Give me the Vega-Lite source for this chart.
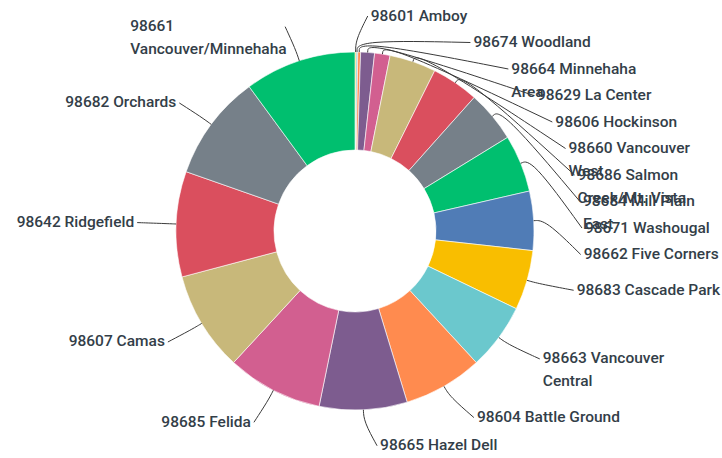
{
  "$schema": "https://vega.github.io/schema/vega-lite/v6.json",
  "width": 710,
  "height": 454,
  "autosize": {"type": "none"},
  "padding": {"left": 0, "top": 4, "right": 12, "bottom": 0},
  "background": "white",
  "config": {"view": {"stroke": null}},
  "data": {
    "values": [
      {"label": "98601 Amboy", "value": 0.11},
      {"label": "98674 Woodland", "value": 0.14},
      {"label": "98664 Minnehaha\nArea", "value": 0.25},
      {"label": "98629 La Center", "value": 1.25},
      {"label": "98606 Hockinson", "value": 1.39},
      {"label": "98660 Vancouver\nWest", "value": 4.2},
      {"label": "98686 Salmon\nCreek/Mt. Vista", "value": 4.25},
      {"label": "98684 Mill Plain\nEast", "value": 4.64},
      {"label": "98671 Washougal", "value": 5.17},
      {"label": "98662 Five Corners", "value": 5.33},
      {"label": "98683 Cascade Park", "value": 5.39},
      {"label": "98663 Vancouver\nCentral", "value": 6.0},
      {"label": "98604 Battle Ground", "value": 7.14},
      {"label": "98665 Hazel Dell", "value": 7.92},
      {"label": "98685 Felida", "value": 8.64},
      {"label": "98607 Camas", "value": 9.0},
      {"label": "98642 Ridgefield", "value": 9.5},
      {"label": "98682 Orchards", "value": 9.55},
      {"label": "98661\nVancouver/Minnehaha", "value": 10.06}
    ]
  },
  "transform": [
    {"joinaggregate": [{"op": "sum", "field": "value", "as": "total"}]},
    {"stack": "value", "groupby": [], "sort": [{"field": "value", "order": "ascending"}], "as": ["v0", "v1"]},
    {"calculate": "PI*(datum.v0+datum.v1)/datum.total", "as": "mid"},
    {"calculate": "datum.mid < PI ? 'R' : 'L'", "as": "side"},
    {"calculate": "-215*cos(datum.mid)", "as": "nat"},
    {"window": [{"op": "row_number", "as": "idx"}], "groupby": ["side"], "sort": [{"field": "value", "order": "ascending"}]},
    {"calculate": "datum.nat-(datum.idx-1)*26.5", "as": "a"},
    {"window": [{"op": "max", "field": "a", "as": "amax"}], "groupby": ["side"], "sort": [{"field": "value", "order": "ascending"}], "frame": [null, 0]},
    {"calculate": "datum.side=='R' ? (datum.idx-1)*26.5+datum.amax : datum.nat", "as": "ly"},
    {"calculate": "datum.side=='R' ? sqrt(max(0,46225-datum.ly*datum.ly))+15 : -sqrt(max(0,46225-datum.ly*datum.ly))-6", "as": "lx"},
    {"calculate": "-datum.ly", "as": "lyu"},
    {"calculate": "indexof(datum.label, '\\n') >= 0", "as": "multi"}
  ],
  "layer": [
    {
      "mark": {"type": "arc", "innerRadius": 81, "outerRadius": 179, "stroke": "#ffffff", "strokeWidth": 0.6},
      "encoding": {
        "theta": {"field": "value", "type": "quantitative", "stack": true},
        "order": {"field": "value", "type": "quantitative", "sort": "ascending"},
        "color": {
          "field": "label",
          "type": "nominal",
          "legend": null,
          "scale": {
            "domain": ["98601 Amboy", "98674 Woodland", "98664 Minnehaha\nArea", "98629 La Center", "98606 Hockinson", "98660 Vancouver\nWest", "98686 Salmon\nCreek/Mt. Vista", "98684 Mill Plain\nEast", "98671 Washougal", "98662 Five Corners", "98683 Cascade Park", "98663 Vancouver\nCentral", "98604 Battle Ground", "98665 Hazel Dell", "98685 Felida", "98607 Camas", "98642 Ridgefield", "98682 Orchards", "98661\nVancouver/Minnehaha"],
            "range": ["#F9BE00", "#6BC8CD", "#FF8B4F", "#7D5C8F", "#D25F90", "#C8B87A", "#DA4F5E", "#768089", "#00BF6F", "#507CB6", "#F9BE00", "#6BC8CD", "#FF8B4F", "#7D5C8F", "#D25F90", "#C8B87A", "#DA4F5E", "#768089", "#00BF6F"]
          }
        }
      }
    },
    {
      "transform": [
        {"calculate": "[0,1,2]", "as": "pts"},
        {"flatten": ["pts"]},
        {"calculate": "datum.pts==0 ? 179*sin(datum.mid) : datum.pts==1 ? 191*sin(datum.mid) : datum.lx + (datum.side=='R' ? -3 : 3)", "as": "px"},
        {"calculate": "datum.pts==0 ? 179*cos(datum.mid) : datum.pts==1 ? 191*cos(datum.mid) : datum.lyu", "as": "py"}
      ],
      "mark": {"type": "line", "interpolate": "basis", "color": "#3a3a3a", "strokeWidth": 1},
      "encoding": {
        "x": {"field": "px", "type": "quantitative", "scale": {"domain": [-355, 355], "nice": false, "zero": false}, "axis": null},
        "y": {"field": "py", "type": "quantitative", "scale": {"domain": [-227, 227], "nice": false, "zero": false}, "axis": null},
        "detail": {"field": "label", "type": "nominal"},
        "order": {"field": "pts", "type": "quantitative"}
      }
    },
    {
      "transform": [{"filter": "datum.side=='R'"}],
      "mark": {"type": "text", "align": "left", "baseline": "line-top", "dy": -11.5, "lineHeight": 23, "lineBreak": "\n", "font": "Roboto", "fontSize": 15.5, "fontWeight": 500, "color": "#333e48"},
      "encoding": {
        "x": {"field": "lx", "type": "quantitative", "scale": {"domain": [-355, 355], "nice": false, "zero": false}, "axis": null},
        "y": {"field": "lyu", "type": "quantitative", "scale": {"domain": [-227, 227], "nice": false, "zero": false}, "axis": null},
        "text": {"field": "label", "type": "nominal"}
      }
    },
    {
      "transform": [{"filter": "datum.side=='L' && !datum.multi"}],
      "mark": {"type": "text", "align": "right", "baseline": "line-top", "dy": -11.5, "lineHeight": 23, "lineBreak": "\n", "font": "Roboto", "fontSize": 15.5, "fontWeight": 500, "color": "#333e48"},
      "encoding": {
        "x": {"field": "lx", "type": "quantitative", "scale": {"domain": [-355, 355], "nice": false, "zero": false}, "axis": null},
        "y": {"field": "lyu", "type": "quantitative", "scale": {"domain": [-227, 227], "nice": false, "zero": false}, "axis": null},
        "text": {"field": "label", "type": "nominal"}
      }
    },
    {
      "transform": [{"filter": "datum.side=='L' && datum.multi"}],
      "mark": {"type": "text", "align": "left", "baseline": "line-top", "dy": -11.5, "dx": -152, "lineHeight": 23, "lineBreak": "\n", "font": "Roboto", "fontSize": 15.5, "fontWeight": 500, "color": "#333e48"},
      "encoding": {
        "x": {"field": "lx", "type": "quantitative", "scale": {"domain": [-355, 355], "nice": false, "zero": false}, "axis": null},
        "y": {"field": "lyu", "type": "quantitative", "scale": {"domain": [-227, 227], "nice": false, "zero": false}, "axis": null},
        "text": {"field": "label", "type": "nominal"}
      }
    }
  ]
}
